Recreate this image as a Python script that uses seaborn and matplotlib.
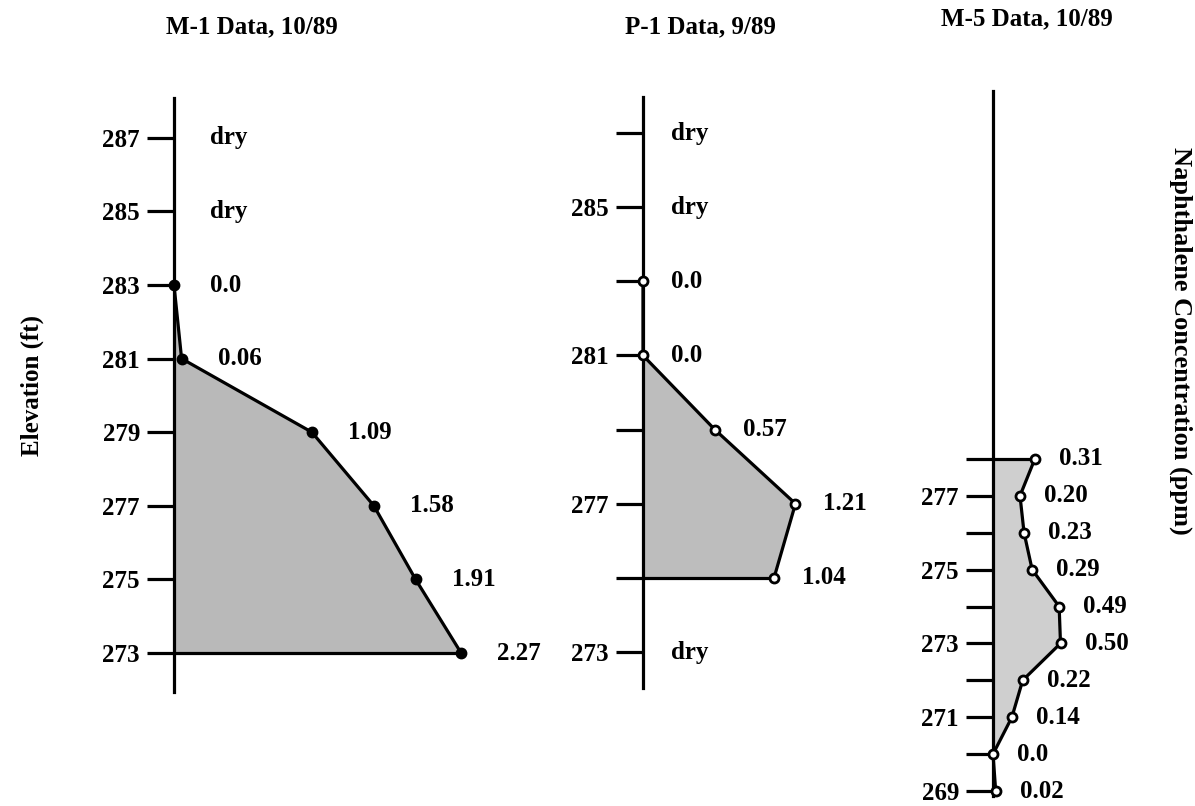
import numpy as np
import matplotlib
matplotlib.use("Agg")
import matplotlib.pyplot as plt
import seaborn as sns

sns.set_style("white")
plt.rcParams["font.family"] = ["Liberation Serif", "DejaVu Serif"]
plt.rcParams["font.weight"] = "bold"
plt.rcParams["text.color"] = "black"
plt.rcParams["ytick.color"] = "black"
plt.rcParams["ytick.labelcolor"] = "black"

# M-1 data, 10/89
m1_elev = [287, 285, 283, 281, 279, 277, 275, 273]
m1_conc = [None, None, 0.0, 0.06, 1.09, 1.58, 1.91, 2.27]
m1_text = ["dry", "dry", "0.0", "0.06", "1.09", "1.58", "1.91", "2.27"]
m1_ticks = [273, 275, 277, 279, 281, 283, 285, 287]
m1_ticklabels = ["273", "275", "277", "279", "281", "283", "285", "287"]

# P-1 data, 9/89
p1_elev = [287, 285, 283, 281, 279, 277, 275, 273]
p1_conc = [None, None, 0.0, 0.0, 0.57, 1.21, 1.04, None]
p1_text = ["dry", "dry", "0.0", "0.0", "0.57", "1.21", "1.04", "dry"]
p1_ticks = [273, 275, 277, 279, 281, 283, 285, 287]
p1_ticklabels = ["273", "", "277", "", "281", "", "285", ""]

# M-5 data, 10/89
m5_elev = [278, 277, 276, 275, 274, 273, 272, 271, 270, 269]
m5_conc = [0.31, 0.20, 0.23, 0.29, 0.49, 0.50, 0.22, 0.14, 0.0, 0.02]
m5_text = ["0.31", "0.20", "0.23", "0.29", "0.49", "0.50", "0.22", "0.14", "0.0", "0.02"]
m5_ticks = [269, 270, 271, 272, 273, 274, 275, 276, 277, 278]
m5_ticklabels = ["269", "", "271", "", "273", "", "275", "", "277", ""]

W, H = 1195, 806
FS = 18

fig = plt.figure(figsize=(W / 100, H / 100), dpi=100)


def make_panel(left, top, bottom, width, ref_elev, ref_px, px_ft, px_unit):
    ax = fig.add_axes([left / W, 1 - bottom / H, width / W, (bottom - top) / H])
    ax.set_ylim(ref_elev - (bottom - ref_px) / px_ft, ref_elev + (ref_px - top) / px_ft)
    ax.set_xlim(0, width / px_unit)
    for side in ["top", "right", "bottom"]:
        ax.spines[side].set_visible(False)
    ax.spines["left"].set_linewidth(2.3)
    ax.spines["left"].set_color("black")
    ax.set_xticks([])
    ax.tick_params(axis="y", direction="out", length=19.5, width=2.3,
                   pad=5, labelsize=FS, left=True, color="black",
                   labelcolor="black")
    ax.patch.set_alpha(0)
    return ax


def draw_profile(ax, elev, conc, text, fill, marker_face, offset, closing):
    e = np.array([v for v, c in zip(elev, conc) if c is not None], dtype=float)
    c = np.array([c for c in conc if c is not None], dtype=float)
    ax.fill_betweenx(e, 0, c, color=fill, lw=0, zorder=1)
    sns.lineplot(x=c, y=e, sort=False, estimator=None, ax=ax, color="black",
                 lw=2.3, marker="o", markersize=6.5, markerfacecolor=marker_face,
                 markeredgecolor="black", markeredgewidth=2, clip_on=False, zorder=3)
    # closing horizontal edge of the shaded area
    ci = closing
    ax.plot([0, c[ci]], [e[ci], e[ci]], color="black", lw=2.3, zorder=2)
    for v, cv, t in zip(elev, conc, text):
        x = 0 if cv is None else cv
        ax.annotate(t, (x, v), xytext=(offset, 0), textcoords="offset pixels",
                    ha="left", va="center", fontsize=FS, fontweight="bold",
                    color="black", annotation_clip=False)


ax1 = make_panel(174, 98, 692, 340, 273, 653, 36.8, 126.5)
ax1.set_yticks(m1_ticks)
ax1.set_yticklabels(m1_ticklabels)
draw_profile(ax1, m1_elev, m1_conc, m1_text, "#b9b9b9", "black", 36, -1)

ax2 = make_panel(643, 97, 688, 220, 273, 652, 37.07, 126)
ax2.set_yticks(p1_ticks)
ax2.set_yticklabels(p1_ticklabels)
draw_profile(ax2, p1_elev, p1_conc, p1_text, "#bdbdbd", "white", 28, -1)

ax3 = make_panel(993, 91, 796, 150, 269, 791, 36.9, 135)
ax3.set_yticks(m5_ticks)
ax3.set_yticklabels(m5_ticklabels)
draw_profile(ax3, m5_elev, m5_conc, m5_text, "#cfcfcf", "white", 24, 0)

fig.text(252 / W, 1 - 27 / H, "M-1 Data, 10/89", ha="center", va="center",
         fontsize=FS, fontweight="bold")
fig.text(700 / W, 1 - 27 / H, "P-1 Data, 9/89", ha="center", va="center",
         fontsize=FS, fontweight="bold")
fig.text(1027 / W, 1 - 19 / H, "M-5 Data, 10/89", ha="center", va="center",
         fontsize=FS, fontweight="bold")
fig.text(32 / W, 1 - 385 / H, "Elevation (ft)", rotation=90, ha="center",
         va="center", fontsize=FS, fontweight="bold")
fig.text(1181 / W, 1 - 341 / H, "Naphthalene Concentration (ppm)", rotation=270,
         ha="center", va="center", fontsize=FS + 1, fontweight="bold")

fig.savefig("out.png", dpi=100)
